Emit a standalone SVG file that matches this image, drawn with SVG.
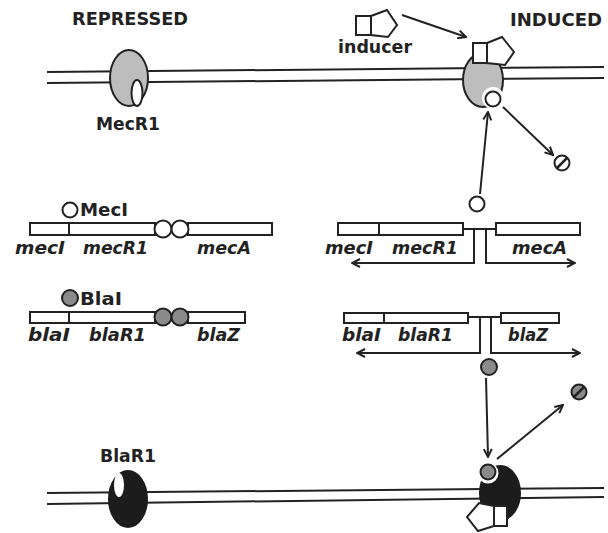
<svg xmlns="http://www.w3.org/2000/svg" width="608" height="533" viewBox="0 0 608 533">
  <style>
    .mem { stroke: #222; stroke-width: 2; fill: none; }
    .ln { stroke: #222; stroke-width: 2; fill: none; }
    .box { fill: #fff; stroke: #222; stroke-width: 2; }
    .lbl { font-family: "DejaVu Sans", Verdana, sans-serif; font-weight: bold; fill: #222; font-size: 17px; }
    .gene { font-family: "DejaVu Sans", Verdana, sans-serif; font-weight: bold; font-style: italic; fill: #222; font-size: 17.5px; }
    .gray { fill: #bdbdbd; stroke: #222; stroke-width: 2; }
    .dark { fill: #1c1c1c; stroke: #1c1c1c; stroke-width: 2; }
    .mecI { fill: #fff; stroke: #222; stroke-width: 2; }
    .blaI { fill: #8a8a8a; stroke: #222; stroke-width: 2; }
    .ind { fill: #fff; stroke: #222; stroke-width: 2; stroke-linejoin: miter; }
    .deg { stroke: #222; stroke-width: 2.5; fill: none; }
  </style>
  <defs>
    <marker id="arr" viewBox="0 0 10 10" refX="9" refY="5" markerWidth="10" markerHeight="10" markerUnits="userSpaceOnUse" orient="auto">
      <path d="M1,1 L9,5 L1,9" fill="none" stroke="#222" stroke-width="2"/>
    </marker>
  </defs>

  <rect width="608" height="533" fill="#fff"/>

  <!-- headings -->
  <text class="lbl" x="72" y="25" textLength="116" lengthAdjust="spacingAndGlyphs">REPRESSED</text>
  <text class="lbl" x="510" y="26" textLength="92" lengthAdjust="spacingAndGlyphs">INDUCED</text>

  <!-- membranes -->
  <g id="membrane-top">
    <line class="mem" x1="47" y1="72" x2="604" y2="67"/>
    <line class="mem" x1="47" y1="83" x2="604" y2="78"/>
  </g>
  <g id="membrane-bottom">
    <line class="mem" x1="47" y1="493" x2="604" y2="488"/>
    <line class="mem" x1="47" y1="504" x2="604" y2="497"/>
  </g>

  <!-- MecR1, repressed -->
  <g id="mecr1-repressed">
    <ellipse class="gray" cx="129" cy="78" rx="19" ry="28"/>
    <ellipse fill="#fff" stroke="#222" stroke-width="2" cx="137" cy="93" rx="5.5" ry="13"/>
    <text class="lbl" x="96" y="130" textLength="64" lengthAdjust="spacingAndGlyphs">MecR1</text>
  </g>

  <!-- free inducer -->
  <g id="inducer">
    <rect class="ind" x="356" y="16" width="15" height="19"/>
    <polygon class="ind" points="371,16 387,10 397,25 388,37 371,35"/>
    <text class="lbl" x="338" y="53" textLength="74" lengthAdjust="spacingAndGlyphs">inducer</text>
  </g>

  <!-- MecR1, induced -->
  <g id="mecr1-induced">
    <ellipse class="gray" cx="483" cy="80" rx="20" ry="27"/>
    <circle cx="493" cy="98" r="11" fill="#fff"/>
    <circle class="mecI" cx="493" cy="99" r="7.5"/>
    <rect class="ind" x="473" y="43" width="14" height="20"/>
    <polygon class="ind" points="487,43 502,37 514,52 505,65 487,63"/>
  </g>

  <!-- degraded MecI -->
  <g id="meci-degraded">
    <circle class="mecI" cx="562" cy="163" r="7.5"/>
    <line class="deg" x1="557" y1="168" x2="567" y2="158"/>
  </g>

  <!-- mec operon, repressed -->
  <g id="mec-repressed">
    <rect class="box" x="30" y="223" width="125" height="12"/>
    <line class="ln" x1="69" y1="223" x2="69" y2="235"/>
    <rect class="box" x="188" y="223" width="84" height="12"/>
    <circle class="mecI" cx="163" cy="229" r="8.5"/>
    <circle class="mecI" cx="180" cy="229" r="8.5"/>
    <circle class="mecI" cx="70" cy="210" r="7.5"/>
    <text class="lbl" x="80" y="216" textLength="48" lengthAdjust="spacingAndGlyphs">MecI</text>
    <text class="gene" x="15" y="254" textLength="50" lengthAdjust="spacingAndGlyphs">mecI</text>
    <text class="gene" x="83" y="254" textLength="65" lengthAdjust="spacingAndGlyphs">mecR1</text>
    <text class="gene" x="197" y="254" textLength="54" lengthAdjust="spacingAndGlyphs">mecA</text>
  </g>

  <!-- mec operon, induced -->
  <g id="mec-induced">
    <rect class="box" x="338" y="223" width="125" height="12"/>
    <line class="ln" x1="379" y1="223" x2="379" y2="235"/>
    <rect class="box" x="496" y="223" width="84" height="12"/>
    <line class="ln" x1="463" y1="229" x2="496" y2="229"/>
    <circle class="mecI" cx="477" cy="204" r="7.5"/>
    <text class="gene" x="325" y="254" textLength="48" lengthAdjust="spacingAndGlyphs">mecI</text>
    <text class="gene" x="392" y="254" textLength="66" lengthAdjust="spacingAndGlyphs">mecR1</text>
    <text class="gene" x="512" y="254" textLength="55" lengthAdjust="spacingAndGlyphs">mecA</text>
  </g>

  <!-- bla operon, repressed -->
  <g id="bla-repressed">
    <rect class="box" x="30" y="312" width="125" height="11"/>
    <line class="ln" x1="69" y1="312" x2="69" y2="323"/>
    <rect class="box" x="188" y="312" width="57" height="11"/>
    <circle class="blaI" cx="163" cy="317" r="8.5"/>
    <circle class="blaI" cx="180" cy="317" r="8.5"/>
    <circle class="blaI" cx="70" cy="298" r="8"/>
    <text class="lbl" x="80" y="305" textLength="42" lengthAdjust="spacingAndGlyphs">BlaI</text>
    <text class="gene" x="28" y="341" textLength="42" lengthAdjust="spacingAndGlyphs">blaI</text>
    <text class="gene" x="89" y="341" textLength="57" lengthAdjust="spacingAndGlyphs">blaR1</text>
    <text class="gene" x="197" y="341" textLength="43" lengthAdjust="spacingAndGlyphs">blaZ</text>
  </g>

  <!-- bla operon, induced -->
  <g id="bla-induced">
    <rect class="box" x="344" y="313" width="124" height="10"/>
    <line class="ln" x1="384" y1="313" x2="384" y2="323"/>
    <rect class="box" x="501" y="313" width="58" height="10"/>
    <line class="ln" x1="468" y1="317" x2="501" y2="317"/>
    <circle class="blaI" cx="489" cy="367" r="8"/>
    <text class="gene" x="342" y="341" textLength="39" lengthAdjust="spacingAndGlyphs">blaI</text>
    <text class="gene" x="398" y="341" textLength="55" lengthAdjust="spacingAndGlyphs">blaR1</text>
    <text class="gene" x="508" y="341" textLength="40" lengthAdjust="spacingAndGlyphs">blaZ</text>
  </g>

  <!-- degraded BlaI -->
  <g id="blai-degraded">
    <circle class="blaI" cx="579" cy="392" r="7.5"/>
    <line class="deg" x1="574" y1="397" x2="584" y2="387"/>
  </g>

  <!-- BlaR1, repressed -->
  <g id="blar1-repressed">
    <ellipse class="dark" cx="128" cy="499" rx="19" ry="28"/>
    <ellipse fill="#fff" cx="119" cy="485" rx="5" ry="12"/>
    <text class="lbl" x="100" y="462" textLength="56" lengthAdjust="spacingAndGlyphs">BlaR1</text>
  </g>

  <!-- BlaR1, induced -->
  <g id="blar1-induced">
    <ellipse class="dark" cx="500" cy="493" rx="20" ry="27"/>
    <circle cx="488" cy="473" r="10.5" fill="#fff"/>
    <circle class="blaI" cx="488" cy="472" r="7.5"/>
    <rect class="ind" x="494" y="506" width="13" height="20"/>
    <polygon class="ind" points="494,506 479,503 467,517 478,531 494,526"/>
  </g>

  <!-- connectors -->
  <g id="connectors">
    <line class="ln" x1="402" y1="15" x2="466" y2="37" marker-end="url(#arr)"/>
    <line class="ln" x1="480" y1="194" x2="488" y2="112" marker-end="url(#arr)"/>
    <line class="ln" x1="503" y1="107" x2="553" y2="155" marker-end="url(#arr)"/>
    <path class="ln" d="M474,229 V263 H352" marker-end="url(#arr)"/>
    <path class="ln" d="M486,229 V263 H575" marker-end="url(#arr)"/>
    <path class="ln" d="M480,317 V353 H357" marker-end="url(#arr)"/>
    <path class="ln" d="M491,317 V353 H580" marker-end="url(#arr)"/>
    <line class="ln" x1="486" y1="378" x2="488" y2="457" marker-end="url(#arr)"/>
    <line class="ln" x1="497" y1="459" x2="563" y2="405" marker-end="url(#arr)"/>
  </g>
</svg>
